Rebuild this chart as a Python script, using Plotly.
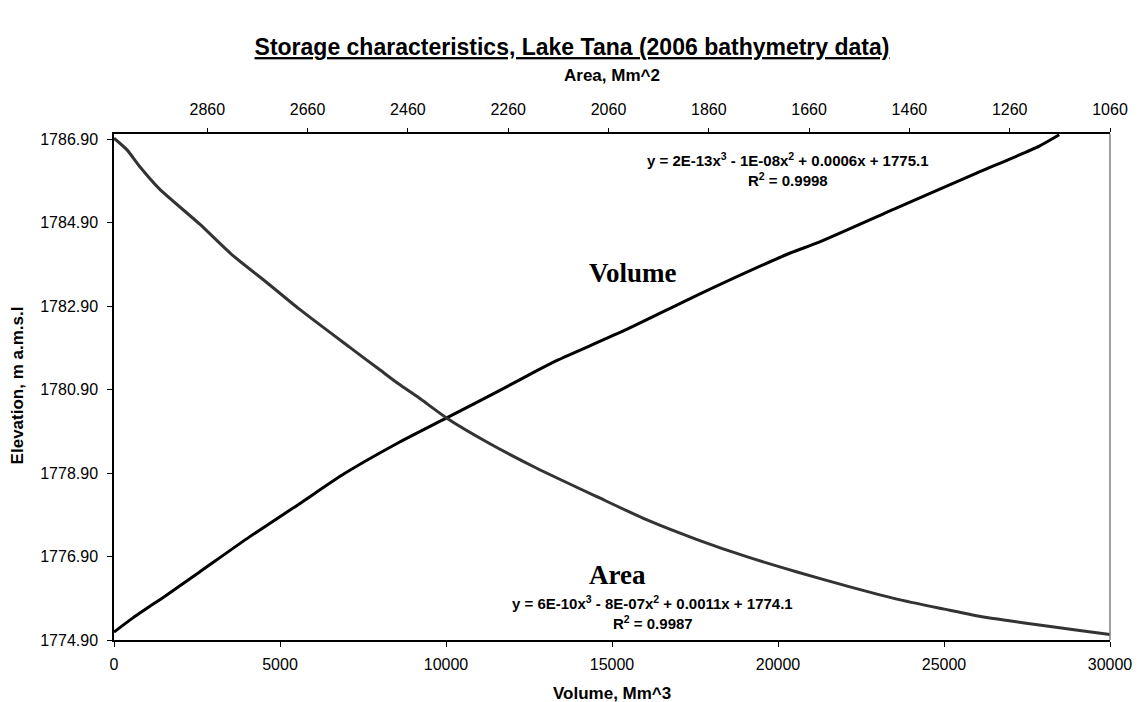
import plotly.graph_objects as go

# ---- data ----
volume = [0, 570, 1590, 2580, 4080, 5580, 6930, 8580, 10020, 11580, 12780, 13380,
          15390, 17700, 20370, 21180, 23580, 25980, 27870, 28470]
volume_elev = [1775.09, 1775.43, 1775.98, 1776.53, 1777.37, 1778.16, 1778.88, 1779.63,
               1780.22, 1780.86, 1781.37, 1781.61, 1782.32, 1783.21, 1784.17, 1784.41,
               1785.25, 1786.08, 1786.73, 1787.00]

area = [3046, 3020, 2994, 2955, 2875, 2810, 2742, 2677, 2577, 2518, 2478, 2438, 2383,
        2299, 2204, 2081, 1982, 1882, 1783, 1684, 1584, 1485, 1390, 1312, 1261, 1201,
        1128, 1060]
area_elev = [1786.92, 1786.64, 1786.23, 1785.70, 1784.86, 1784.12, 1783.47, 1782.83,
             1781.92, 1781.39, 1781.03, 1780.70, 1780.22, 1779.62, 1779.02, 1778.32,
             1777.77, 1777.30, 1776.89, 1776.53, 1776.19, 1775.88, 1775.64, 1775.45,
             1775.36, 1775.26, 1775.14, 1775.03]

volume_ticks = [0, 5000, 10000, 15000, 20000, 25000, 30000]
area_ticks = [1060, 1260, 1460, 1660, 1860, 2060, 2260, 2460, 2660, 2860]
elev_ticks = [1774.9, 1776.9, 1778.9, 1780.9, 1782.9, 1784.9, 1786.9]

title_text = "Storage characteristics, Lake Tana (2006 bathymetry data)"
eq_volume = "y = 2E-13x<sup>3</sup> - 1E-08x<sup>2</sup> + 0.0006x + 1775.1"
r2_volume = "R<sup>2</sup> = 0.9998"
eq_area = "y = 6E-10x<sup>3</sup> - 8E-07x<sup>2</sup> + 0.0011x + 1774.1"
r2_area = "R<sup>2</sup> = 0.9987"

SANS = "Liberation Sans, Arial, sans-serif"
SERIF = "Liberation Serif, Times New Roman, serif"

fig = go.Figure()
fig.add_trace(go.Scatter(x=volume, y=volume_elev, mode="lines",
                         line=dict(color="#000000", width=3, shape="spline", smoothing=0.6),
                         xaxis="x", yaxis="y", name="Volume", showlegend=False))
fig.add_trace(go.Scatter(x=area, y=area_elev, mode="lines",
                         line=dict(color="#333333", width=3, shape="spline", smoothing=0.6),
                         xaxis="x2", yaxis="y", name="Area", showlegend=False))

W, H = 1144, 702
L, R, T, B = 114, 1114, 134, 640

axis_common = dict(showgrid=False, zeroline=False, showline=True, linecolor="#000000",
                   linewidth=1.5, ticks="outside", tickcolor="#000000", tickwidth=1,
                   tickfont=dict(family=SANS, size=16, color="#000000"))

fig.update_layout(
    width=W, height=H,
    margin=dict(l=L, r=W - R, t=T, b=H - B),
    paper_bgcolor="white", plot_bgcolor="white",
    title=dict(text="<b><u>" + title_text + "</u></b>", x=0.5, xref="container",
               xanchor="center", y=1 - 47 / H, yref="container", yanchor="middle",
               font=dict(family=SANS, size=23, color="#000000")),
    xaxis=dict(range=[0, 30000], tickvals=volume_ticks,
               ticktext=[str(v) for v in volume_ticks], ticklen=5,
               ticklabelstandoff=4, **axis_common),
    xaxis2=dict(range=[3046, 1060], tickvals=area_ticks,
                ticktext=[str(v) for v in area_ticks], overlaying="x", side="top",
                ticklen=4, ticklabelstandoff=7, **axis_common),
    yaxis=dict(range=[1774.9, 1787.02], tickvals=elev_ticks,
               ticktext=["%.2f" % v for v in elev_ticks],
               ticklen=5, ticklabelstandoff=6, **axis_common),
    showlegend=False,
)

fig.add_shape(type="line", xref="paper", yref="paper", x0=1, x1=1, y0=0, y1=1,
              line=dict(color="#808080", width=1.5))

anns = [
    dict(text="<b>Area, Mm^2</b>", x=614, y=75, size=17, fam=SANS),
    dict(text="<b>Volume, Mm^3</b>", x=614, y=693, size=17, fam=SANS),
    dict(text="<b>" + eq_volume + "</b>", x=791, y=159, size=15, fam=SANS),
    dict(text="<b>" + r2_volume + "</b>", x=791, y=179, size=15, fam=SANS),
    dict(text="<b>" + eq_area + "</b>", x=655, y=602, size=15, fam=SANS),
    dict(text="<b>" + r2_area + "</b>", x=655, y=622, size=15, fam=SANS),
    dict(text="<b>Volume</b>", x=635, y=273, size=27, fam=SERIF),
    dict(text="<b>Area</b>", x=620, y=575, size=27, fam=SERIF),
]
for a in anns:
    fig.add_annotation(text=a["text"], xref="paper", yref="paper",
                       x=(a["x"] - L) / (R - L), y=(B - a["y"]) / (B - T),
                       xanchor="center", yanchor="middle", showarrow=False,
                       font=dict(family=a["fam"], size=a["size"], color="#000000"))

fig.add_annotation(text="<b>Elevation, m a.m.s.l</b>", xref="paper", yref="paper",
                   x=(17 - L) / (R - L), y=(B - 385) / (B - T), textangle=-90,
                   xanchor="center", yanchor="middle", showarrow=False,
                   font=dict(family=SANS, size=17, color="#000000"))

fig.write_html("out.html")
